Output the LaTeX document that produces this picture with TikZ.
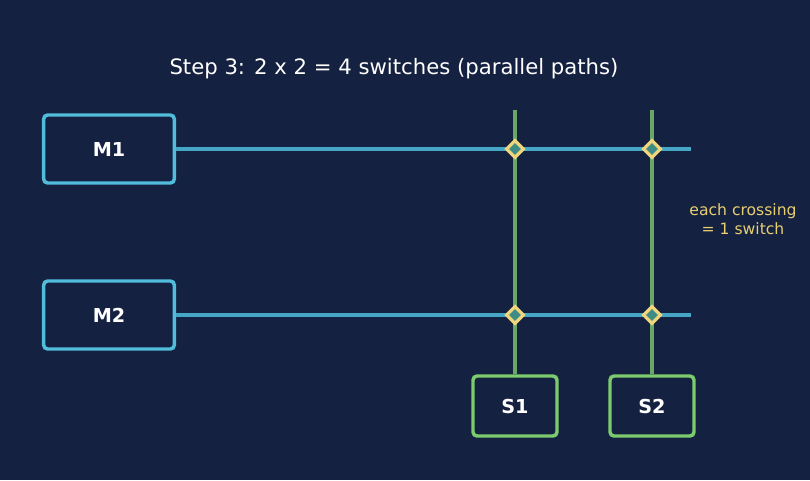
\documentclass[tikz,border=0pt]{standalone}
\usepackage{fontspec}
\setmainfont{DejaVu Sans}
\usetikzlibrary{shapes.geometric}
\definecolor{bgc}{HTML}{152140}
\definecolor{mcol}{HTML}{52BCDC}
\definecolor{mline}{HTML}{46A6C6}
\definecolor{scol}{HTML}{7CCB6E}
\definecolor{sline}{HTML}{68A864}
\definecolor{yel}{HTML}{F0D67A}
\definecolor{ytext}{HTML}{E8CF72}
\definecolor{xfill}{HTML}{3F8C86}
\tikzset{
    mbox/.style={rectangle, rounded corners=3pt, draw=mcol, line width=2.6pt, minimum width=98pt, minimum height=51pt, text=white, font=\bfseries\fontsize{14.4}{17}\selectfont},
    sbox/.style={rectangle, rounded corners=3pt, draw=scol, line width=2.6pt, minimum width=63pt, minimum height=45pt, text=white, font=\bfseries\fontsize{14.4}{17}\selectfont},
    xing/.style={diamond, draw=yel, fill=xfill, line width=2.4pt, inner sep=0pt, minimum size=13.5pt}
}
\begin{document}
\begin{tikzpicture}[x=0.75pt, y=-0.75pt]
  \fill[bgc] (0,0) rectangle (810,480);
  \useasboundingbox (0,0) rectangle (810,480);

  \node (title) [text=white, font=\fontsize{15.9}{19}\selectfont] at (394,69) {Step 3: 2 x 2 = 4 switches (parallel paths)};

  \node (m1) [mbox] at (109,149) {M1};
  \node (m2) [mbox] at (109,315) {M2};
  \node (s1) [sbox] at (515,406) {S1};
  \node (s2) [sbox] at (652,406) {S2};

  \coordinate (t1) at (515,110);
  \coordinate (t2) at (652,110);
  \coordinate (e1) at (691,149);
  \coordinate (e2) at (691,315);

  \draw [sline, line width=2.4pt] (t1) -- (s1.north);
  \draw [sline, line width=2.4pt] (t2) -- (s2.north);
  \draw [mline, line width=2.4pt] (m1.east) -- (e1);
  \draw [mline, line width=2.4pt] (m2.east) -- (e2);

  \node (x11) [xing] at (515,149) {};
  \node (x12) [xing] at (652,149) {};
  \node (x21) [xing] at (515,315) {};
  \node (x22) [xing] at (652,315) {};

  \node (note) [text=ytext, align=center, font=\fontsize{11.7}{14}\selectfont] at (743,219) {each crossing\\= 1 switch};
\end{tikzpicture}
\end{document}
